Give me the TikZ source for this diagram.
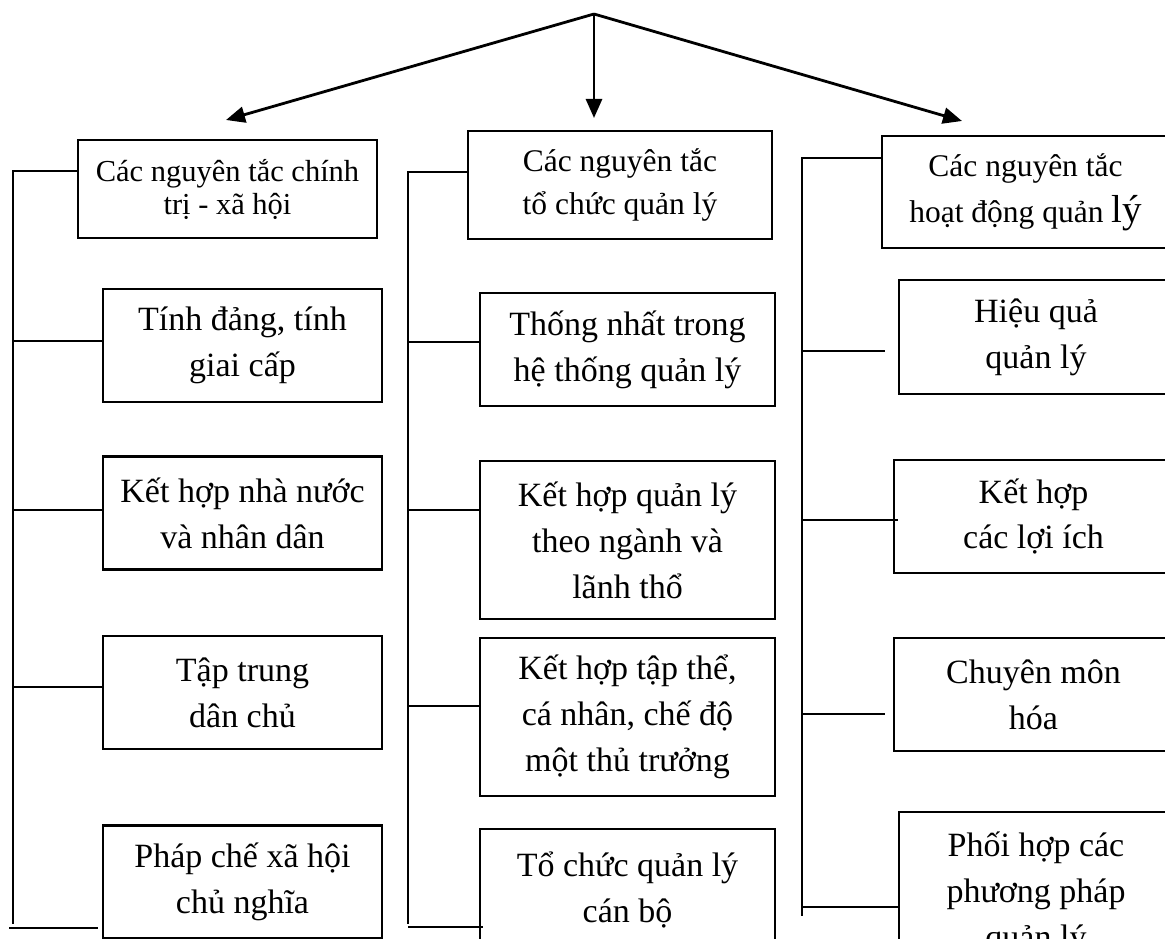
\documentclass[tikz,border=0pt]{standalone}
\usepackage{fontspec}
\setmainfont{Liberation Serif}
\usetikzlibrary{arrows.meta}

\begin{document}
\begin{tikzpicture}[
    x=1pt, y=-1pt,
    box/.style={draw,line width=2.1pt,inner sep=0pt,outer sep=0pt,align=center,font=\fontsize{34}{46}\selectfont},
    head/.style={box,font=\fontsize{31.5}{43}\selectfont},
    lbox/.style={box,minimum width=279,minimum height=113},
    mbox/.style={box,minimum width=295},
    rbox/.style={box,minimum width=274},
    link/.style={line width=2.1pt},
    arrow/.style={line width=2.8pt,-{Triangle[length=19pt,width=16pt]}}
    ]

    \useasboundingbox (0,0) rectangle (1165,939);
    \clip (0,0) rectangle (1165,939);

    % top:
    \coordinate (apex) at (594, 14);
    \coordinate (tipl) at (226, 120);
    \coordinate (tipm) at (594, 118);
    \coordinate (tipr) at (962, 121);

    % left column:
    \node (lh) at (227.5, 189) [head, minimum width=299, minimum height=98, font=\fontsize{30.5}{33}\selectfont] {Các nguyên tắc chính\\trị - xã hội};
    \node (l1) at (242.5, 345.5) [lbox] {Tính đảng, tính\\giai cấp};
    \node (l2) at (242.5, 513) [lbox] {Kết hợp nhà nước\\và nhân dân};
    \node (l3) at (242.5, 692.5) [lbox] {Tập trung\\dân chủ};
    \node (l4) at (242.5, 882) [lbox] {Pháp chế xã hội\\chủ nghĩa};

    % middle column:
    \node (mh) at (620, 185) [head, minimum width=304, minimum height=108] {Các nguyên tắc\\tổ chức quản lý};
    \node (m1) at (627.5, 349.5) [mbox, minimum height=113] {Thống nhất trong\\hệ thống quản lý};
    \node (m2) at (627.5, 540) [mbox, minimum height=158] {Kết hợp quản lý\\theo ngành và\\lãnh thổ};
    \node (m3) at (627.5, 717) [mbox, minimum height=158] {Kết hợp tập thể,\\cá nhân, chế độ\\một thủ trưởng};
    \node (m4) at (627.5, 889.5) [mbox, minimum height=121] {Tổ chức quản lý\\cán bộ};

    % right column:
    \node (rh) at (1025.5, 192) [head, minimum width=287, minimum height=112, font=\fontsize{31.5}{46}\selectfont] {Các nguyên tắc\\hoạt động quản {\fontsize{39}{46}\selectfont lý}};
    \node (r1) at (1036, 337) [rbox, minimum height=114] {Hiệu quả\\quản lý};
    \node (r2) at (1033.5, 516.5) [rbox, minimum width=279, minimum height=113] {Kết hợp\\các lợi ích};
    \node (r3) at (1033.5, 694.5) [rbox, minimum width=279, minimum height=113] {Chuyên môn\\hóa};
    \node (r4) at (1036, 894) [rbox, minimum height=164] {Phối hợp các\\phương pháp\\quản lý};

    % connect nodes:

    \draw [arrow] (apex) -- (tipl);
    \draw [arrow] (apex) -- (tipm);
    \draw [arrow] (apex) -- (tipr);

    \coordinate (ltop) at (13, 171);
    \coordinate (lbot) at (13, 924);
    \coordinate (lfa) at (9, 928);
    \coordinate (lfb) at (98, 928);
    \draw [link] (lh.west |- ltop) -- (ltop) -- (lbot);
    \draw [link] (l1.west |- 0,341) -- (ltop |- 0,341);
    \draw [link] (l2.west |- 0,510) -- (ltop |- 0,510);
    \draw [link] (l3.west |- 0,687) -- (ltop |- 0,687);
    \draw [link] (lfa) -- (lfb);

    \coordinate (mtop) at (408, 172);
    \coordinate (mbot) at (408, 924);
    \coordinate (mfoot) at (483, 927);
    \draw [link] (mh.west |- mtop) -- (mtop) -- (mbot);
    \draw [link] (m1.west |- 0,342) -- (mtop |- 0,342);
    \draw [link] (m2.west |- 0,510) -- (mtop |- 0,510);
    \draw [link] (m3.west |- 0,706) -- (mtop |- 0,706);
    \draw [link] (mbot |- mfoot) -- (mfoot);

    \coordinate (rtop) at (802, 158);
    \coordinate (rbot) at (802, 916);
    \coordinate (r1e) at (885, 351);
    \coordinate (r2e) at (898, 520);
    \coordinate (r3e) at (885, 714);
    \draw [link] (rh.west |- rtop) -- (rtop) -- (rbot);
    \draw [link] (rtop |- r1e) -- (r1e);
    \draw [link] (rtop |- r2e) -- (r2e);
    \draw [link] (rtop |- r3e) -- (r3e);
    \draw [link] (r4.west |- 0,907) -- (rtop |- 0,907);

  \end{tikzpicture}
\end{document}
